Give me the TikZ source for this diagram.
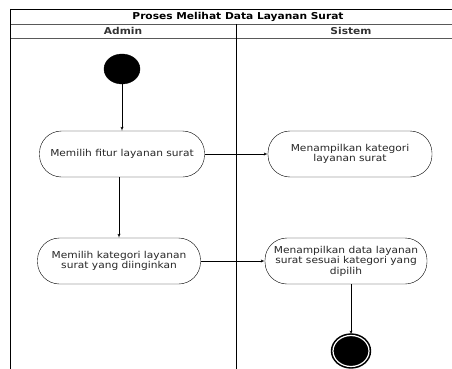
\documentclass[tikz,border=0pt]{standalone}
\usepackage{fontspec}
\setmainfont{DejaVu Sans}[FakeStretch=1.12]
\usetikzlibrary{shapes.geometric,arrows}
\newcommand{\actfont}{\fontsize{9.5}{10.5}\selectfont}
\newcommand{\actstate}[4]{
	\node [draw, fill=white, rectangle, rounded corners=22pt, minimum width=#3, minimum height=46pt, inner sep=1pt, align=center, font=\actfont, text=black!85] (#1) at (#2) {#4};}

\begin{document}
\begin{tikzpicture}[auto,>=latex',x=1pt,y=-1pt]
	\useasboundingbox (0,0) rectangle (452,369);
	% swimlane frame
	\draw [line width=0.8pt] (10,9) -- (466,9);
	\draw [gray!70!black] (10,24) -- (466,24);
	\draw [gray!70!black] (10,38) -- (466,38);
	\draw [line width=0.8pt] (10,9) -- (10,369);
	\draw [line width=0.8pt] (236,24) -- (236,369);
	\node [font=\actfont\bfseries] (title) at (238,16.5) {Proses Melihat Data Layanan Surat};
	\node [font=\actfont\bfseries, text=black!80] (admin) at (123,31) {Admin};
	\node [font=\actfont\bfseries, text=black!80] (sistem) at (351,31) {Sistem};
	% start and end
	\node [draw, fill=black, ellipse, minimum width=36pt, minimum height=30pt, inner sep=0pt] (start) at (122,69) {};
	\node [draw=black, fill=black, ellipse, double=white, double distance=1.2pt, line width=1.6pt, minimum width=36pt, minimum height=31pt, inner sep=0pt] (final) at (351,351) {};
	% actions
	\actstate{fitur}{122,154}{165pt}{Memilih fitur layanan surat}
	\actstate{pilih}{119,261}{163pt}{Memilih kategori layanan\\ surat yang diinginkan}
	\actstate{tampil}{350,154}{164pt}{Menampilkan kategori\\ layanan surat}
	\actstate{hasil}{346,261}{162pt}{Menampilkan data layanan\\ surat sesuai kategori yang\\ dipilih}
	\draw [->] (start) -- (start |- fitur.north);
	\draw [->] (fitur.south -| pilih) -- (pilih.north);
	\draw [->] (fitur) -- (tampil);
	\draw [->] (pilih) -- (hasil);
	\draw [->] (hasil.south -| final) -- (final);
\end{tikzpicture}
\end{document}
